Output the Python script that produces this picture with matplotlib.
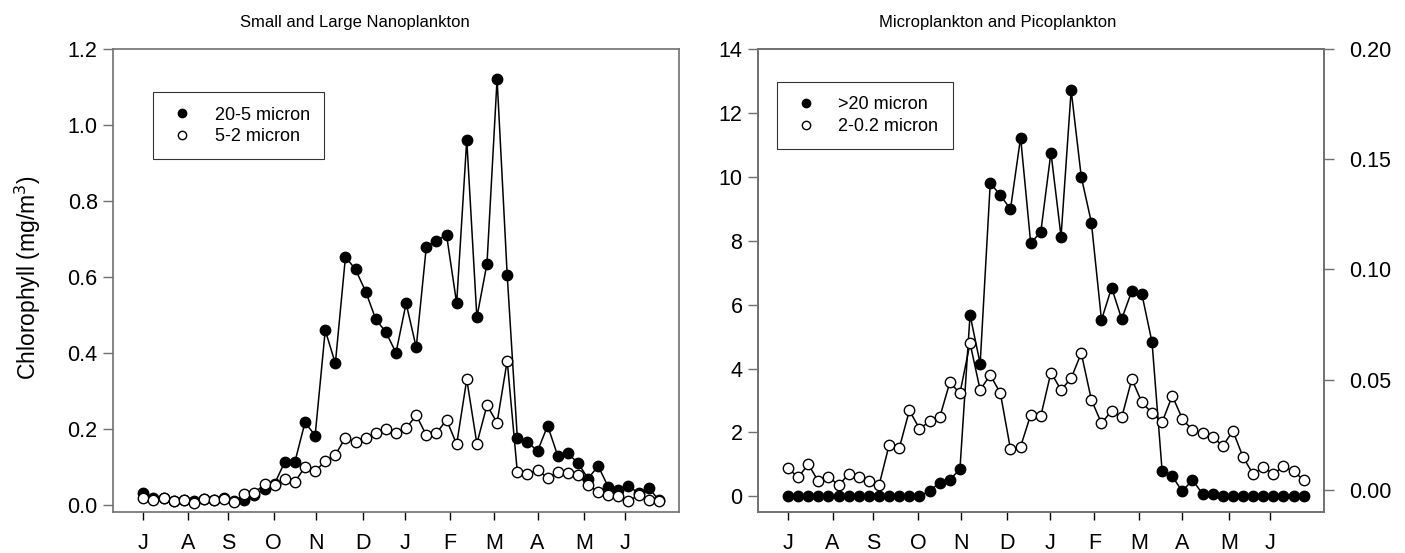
import numpy as np
import matplotlib
matplotlib.use("Agg")
import matplotlib.pyplot as plt

plt.rcParams['font.family'] = ['Liberation Sans', 'DejaVu Sans']

# semanas de muestreo (52) y posicion de los meses en esas unidades
semana = np.arange(52)
meses = ['J', 'A', 'S', 'O', 'N', 'D', 'J', 'F', 'M', 'A', 'M', 'J']
pos_meses = [0, 4.4, 8.4, 12.9, 17.1, 21.7, 25.9, 30.3, 34.7, 39.0, 43.6, 47.7]

# Nanoplancton (mg/m3)
nano_20_5 = [0.031, 0.020, 0.018, 0.012, 0.014, 0.012, 0.015, 0.013, 0.020, 0.010,
             0.013, 0.026, 0.042, 0.057, 0.114, 0.114, 0.218, 0.183, 0.460, 0.373,
             0.653, 0.620, 0.562, 0.489, 0.455, 0.401, 0.531, 0.415, 0.680, 0.696,
             0.711, 0.531, 0.961, 0.494, 0.635, 1.121, 0.606, 0.178, 0.167, 0.142,
             0.209, 0.130, 0.136, 0.111, 0.070, 0.103, 0.048, 0.041, 0.051, 0.031,
             0.046, 0.013]
nano_5_2 = [0.020, 0.013, 0.020, 0.011, 0.013, 0.007, 0.017, 0.013, 0.015, 0.009,
            0.029, 0.033, 0.055, 0.053, 0.070, 0.061, 0.101, 0.089, 0.116, 0.132,
            0.178, 0.165, 0.177, 0.190, 0.200, 0.191, 0.202, 0.237, 0.184, 0.189,
            0.225, 0.160, 0.331, 0.162, 0.263, 0.217, 0.380, 0.088, 0.083, 0.092,
            0.072, 0.086, 0.085, 0.079, 0.053, 0.035, 0.026, 0.024, 0.011, 0.026,
            0.013, 0.011]

# Microplancton (eje izq) y Picoplancton (eje der)
micro_20 = [0, 0, 0, 0, 0, 0, 0, 0, 0, 0, 0, 0, 0, 0,
            0.18, 0.42, 0.52, 0.85, 5.68, 4.15, 9.81, 9.42, 8.99, 11.23, 7.92, 8.28,
            10.76, 8.13, 12.71, 10.0, 8.57, 5.52, 6.53, 5.55, 6.43, 6.32, 4.82,
            0.78, 0.625, 0.156, 0.52, 0.07, 0.07,
            0.02, 0.02, 0.02, 0.02, 0.02, 0.02, 0.02, 0.02, 0.02]
pico_2_02 = [0.0098, 0.0056, 0.0116, 0.0038, 0.0060, 0.0020, 0.0071, 0.0057, 0.0038, 0.0020,
             0.0204, 0.0189, 0.0360, 0.0277, 0.0310, 0.0329, 0.0487, 0.0438, 0.0665, 0.0453,
             0.0521, 0.0438, 0.0184, 0.0196, 0.0340, 0.0335, 0.0532, 0.0453, 0.0506, 0.0620,
             0.0408, 0.0302, 0.0358, 0.0328, 0.0502, 0.0396, 0.0348, 0.0307, 0.0426, 0.0322,
             0.0269, 0.0257, 0.0239, 0.0199, 0.0267, 0.0148, 0.0071, 0.0103, 0.0071, 0.0106,
             0.0083, 0.0045]

gris = '#707070'
tam = 15.5  # tamaño de las etiquetas de los ejes
estilo_lleno = dict(color='black', lw=1.1, marker='o', ms=7.5, mfc='black', mec='black')
estilo_vacio = dict(color='black', lw=1.1, marker='o', ms=7.5, mfc='white', mec='black', mew=1.0)
opciones_leyenda = dict(loc='upper left', fontsize=13, frameon=True, fancybox=False,
                        borderpad=0.8, handletextpad=1.0, markerscale=0.8,
                        handlelength=1.6, labelspacing=0.25, borderaxespad=0)


def formato(ax):
    for s in ax.spines.values():
        s.set_color(gris)
        s.set_linewidth(1.2)
    ax.set_xlim(-3, 53)
    ax.set_xticks(pos_meses)
    ax.set_xticklabels(meses)
    ax.tick_params(axis='x', direction='out', length=6, width=1, color='black',
                   pad=9, labelsize=tam)
    ax.tick_params(axis='y', direction='out', length=7, width=1, color=gris,
                   pad=4, labelsize=tam)


def arreglar_leyenda(leg):
    leg.get_frame().set_edgecolor('black')
    leg.get_frame().set_linewidth(0.8)
    for h in leg.get_lines():
        h.set_linestyle('none')


fig = plt.figure(figsize=(14.05, 5.53), dpi=100)

# panel izquierdo
ax1 = fig.add_axes([0.0804, 0.0741, 0.4029, 0.8373])
ax1.plot(semana, nano_20_5, label='20-5 micron', zorder=2, **estilo_lleno)
ax1.plot(semana, nano_5_2, label='5-2 micron', zorder=3, **estilo_vacio)
formato(ax1)
ax1.set_ylim(-0.018, 1.2)
ax1.set_yticks(np.arange(0, 1.21, 0.2))
ax1.set_yticklabels(['%.1f' % v for v in np.arange(0, 1.21, 0.2)])
ax1.set_ylabel('Chlorophyll (mg/m$^3$)', fontsize=16.5)
ax1.yaxis.set_label_coords(-0.124, 0.506)
leg1 = ax1.legend(bbox_to_anchor=(0.071, 0.907), **opciones_leyenda)
arreglar_leyenda(leg1)

# panel derecho
ax2 = fig.add_axes([0.5393, 0.0741, 0.4030, 0.8373])
l1, = ax2.plot(semana, micro_20, label='>20 micron', zorder=2, **estilo_lleno)
formato(ax2)
ax2.set_ylim(-0.49, 14)
ax2.set_yticks(np.arange(0, 15, 2))
ax3 = ax2.twinx()
l2, = ax3.plot(semana, pico_2_02, label='2-0.2 micron', **estilo_vacio)
ax3.set_ylim(-0.0101, 0.2)
ax3.set_yticks(np.arange(0, 0.201, 0.05))
ax3.set_yticklabels(['%.2f' % v for v in np.arange(0, 0.201, 0.05)])
for s in ax3.spines.values():
    s.set_color(gris)
    s.set_linewidth(1.2)
ax3.tick_params(axis='y', direction='out', length=7, width=1, color=gris,
                pad=11, labelsize=tam)
leg2 = ax3.legend([l1, l2], ['>20 micron', '2-0.2 micron'],
                  bbox_to_anchor=(0.034, 0.929), **opciones_leyenda)
arreglar_leyenda(leg2)

fig.text(0.2527, 0.960, 'Small and Large Nanoplankton', ha='center', va='center', fontsize=12)
fig.text(0.7103, 0.960, 'Microplankton and Picoplankton', ha='center', va='center', fontsize=12)

fig.savefig('out.png', dpi=100)
